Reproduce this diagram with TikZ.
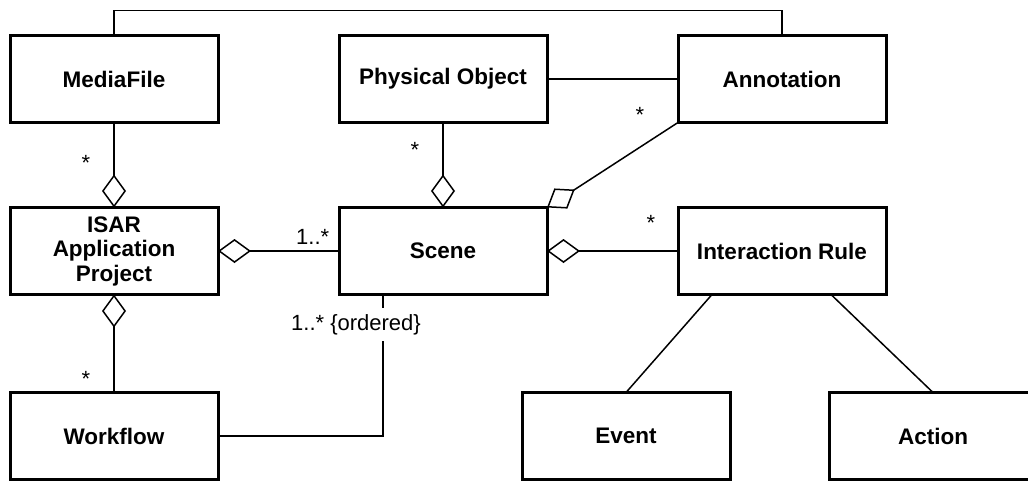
\documentclass[tikz,border=0pt]{standalone}
\usepackage{fontspec}
\setmainfont{Liberation Sans}
\usetikzlibrary{arrows.meta}
\begin{document}
\begin{tikzpicture}[x=1pt,y=-1pt,
  cls/.style={draw, line width=3pt, minimum width=208pt, minimum height=87pt,
    align=center, outer sep=0pt, inner sep=2pt,
    font=\fontsize{22.5}{24.5}\selectfont\bfseries},
  conn/.style={line width=1.5pt},
  agg/.style={conn, {Diamond[open, length=33pt, width=24pt, line width=1.5pt]}-},
  mult/.style={font=\fontsize{22}{24}\selectfont, inner sep=0pt, anchor=base}
]
\clip (0,0) rectangle (1028,480);
\fill[white] (0,0) rectangle (1028,480);

% classes
\node[cls] (media)    at (114,79)  {MediaFile};
\node[cls] (phys)     at (443,79)  {Physical Object};
\node[cls] (annot)    at (782,79)  {Annotation};
\node[cls] (isar)     at (114,251) {ISAR\\Application\\Project};
\node[cls] (scene)    at (443,251) {Scene};
\node[cls] (rule)     at (782,251) {Interaction Rule};
\node[cls] (workflow) at (114,436) {Workflow};
\node[cls] (event)    at (626,436) {Event};
\node[cls] (action)   at (933,436) {Action};

% associations
\draw[conn] (media.north) -- ++(0,-25) -| (annot.north);
\draw[conn] (phys.east) -- (annot.west);
\draw[agg] (isar.north) -- (media.south);
\draw[agg] (scene.north) -- (phys.south);
\draw[agg] (scene.north east) -- (annot.south west);
\draw[agg] (isar.east) -- (scene.west);
\draw[agg] (scene.east) -- (rule.west);
\draw[agg] (isar.south) -- (workflow.north);
\draw[conn] ([xshift=-60pt]scene.south) |- (workflow.east);
\draw[conn] ([xshift=-70pt]rule.south) -- (event.north);
\draw[conn] ([xshift=49pt]rule.south) -- (action.north);

% multiplicities
\node[mult] (m1) at (86,170)  {*};
\node[mult] (m2) at (415,157) {*};
\node[mult] (m3) at (640,122) {*};
\node[mult] (m4) at (651,230) {*};
\node[mult] (m5) at (86,386)  {*};
\node[mult, anchor=base west] (m6) at (296,244) {1..*};
\node[mult, fill=white, inner xsep=2pt, inner ysep=6pt] (m7) at (356,330) {1..* \{ordered\}};
\end{tikzpicture}
\end{document}
